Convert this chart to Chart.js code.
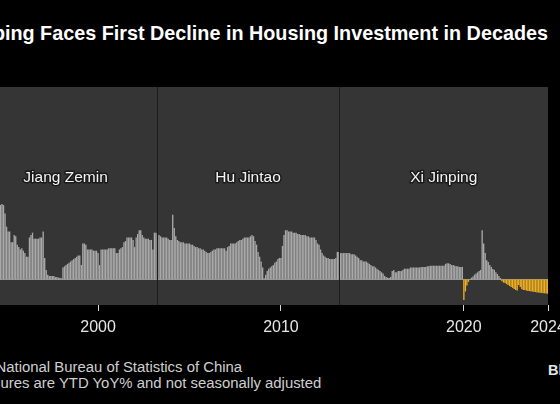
<!DOCTYPE html>
<html><head><meta charset="utf-8">
<script src="https://cdn.jsdelivr.net/npm/chart.js@4.4.1/dist/chart.umd.min.js"></script>
<style>
html,body{margin:0;padding:0;background:#000;width:560px;height:404px;overflow:hidden;font-family:"Liberation Sans",Arial,sans-serif}
#ttl{position:absolute;right:12px;top:22px;color:#fff;font-weight:bold;font-size:19.8px;line-height:22px;white-space:nowrap}
#wrap{position:absolute;left:0;top:87px;width:560px;height:258px}
#foot{position:absolute;left:-60px;top:359px;color:#cfcfcf;font-size:14.9px;line-height:16px;white-space:nowrap}
#brand{position:absolute;left:548px;top:361px;color:#e6e6e6;font-weight:bold;font-size:14.5px;line-height:18px;white-space:nowrap}
</style></head>
<body>
<div id="ttl">Xi Jinping Faces First Decline in Housing Investment in Decades</div>
<div id="wrap"><canvas id="cHouse" width="560" height="258"></canvas></div>
<div id="foot">Source: National Bureau of Statistics of China<br>Note: Figures are YTD YoY% and not seasonally adjusted</div>
<div id="brand">Bloomberg</div>
<script>
// ══════════════════════════════════════════
//  DATA  – residential investment, YTD YoY %, monthly
// ══════════════════════════════════════════
var seriesStart=[1994,8];   // first value = Aug 1994
var yoy1990s=[
  61,62,63,62,55,
  44,40,40,31,31,37,36,29,27,25,26,24,
  22,19,19,35,37,39,34,34,34,34,35,35,
  40,18,8,4,3,3,3,3,2,2,1.5,1.5,
  1,10,11,12,13,14,15,16,17,18,19,20,
  20,12,30,30,29,25,25,25,25,24,24,24
];
var yoy2000s=[
  22,12,25,25,25,25,25,26,26,26,26,26,
  22,22,25,26,27,31,32,35,35,35,35,33,
  27,35,38,41,41,37,35,34,34,34,33,33,
  25,39,39,37,37,36,35,35,35,35,34,33,
  33,54,43,36,33,32,31,31,31,30,30,30,
  30,29,29,28,27,27,26,26,25,25,24,23,
  22,22,23,24,25,25,26,26,26,26,26,26,
  24,27,28,30,30,30,30,31,32,33,33,34,
  35,35,35,35,36,37,36,32,29,23,19,15,
  10,1,4,7,9,10,11,12,14,15,17,18
];
var yoy2010s=[
  18,28,37,41,41,40,40,40,39,39,39,38,
  38,37,37,37,37,36,36,35,35,35,35,33,
  30,29,25,22,20,19,18,18,17,17,17,17,
  18,23,23,22,22,22,22,22,22,22,21,21,
  21,20,19,18,16,16,15,15,15,14,13,12,
  11,11,10,9,8,7,6,5,3,2,1.5,1.2,
  2,7,8,6,6,7,7,7,8,9,9,9,
  9,10,10,10,10,10,10,10,10.5,10.5,10.5,10.5,
  11,11,11.5,11.5,11.5,11.5,11.5,11.5,11.5,11.5,11.5,11.5,
  13,13.5,13.5,13,12,12,11.5,11,11,10.5,10.5,10.5
];
var yoy2020s=[
  -17,-10,-5,-2,-0.4,1.5,2.5,4,5,6,7,8,
  41,30,22,16,14.5,12,10.4,8.7,8,6,4.6,3,
  1.2,-1.5,-2.5,-3,-3.8,-4.6,-5.4,-6.2,-7,-8,-8.7,-9.2,
  -4.6,-6.2,-8,-8.7,-8.7,-9.2,-9.6,-9.6,-10,-10,-10.4,-10.4,
  -10.8,-10.8,-11.2,-11.2,-11.5,-11.5,-11.7,-11.8
];
var leaders=['Jiang Zemin','Hu Jintao','Xi Jinping'];
var termStart=[1993.25,2003.2,2013.2];   // decimal years
var tickYears=[2000,2010,2020,2024];

var X_MIN=1994.64,X_MAX=2024.6,Y_MIN=-21.25,Y_MAX=160.4;
var GRAY='#a9a9a9',GOLD='#eeb020';

var allVals=yoy1990s.concat(yoy2000s,yoy2010s,yoy2020s);
var pts=allVals.map(function(v,i){var m=seriesStart[1]-1+i;return{x:seriesStart[0]+m/12,y:v};});

/* ── plot background + zero line ── */
var backdrop={id:'backdrop',
  beforeDraw:function(c){var a=c.chartArea,x=c.ctx;x.save();x.fillStyle='#353535';x.fillRect(a.left,a.top,a.right-a.left,a.bottom-a.top);x.restore();},
  beforeDatasetsDraw:function(c){var a=c.chartArea,x=c.ctx,y0=Math.round(c.scales.y.getPixelForValue(0))+0.5;
    x.save();x.strokeStyle='#8c8c8c';x.lineWidth=1;x.beginPath();x.moveTo(a.left,y0);x.lineTo(a.right,y0);x.stroke();x.restore();}
};
/* ── leader terms: dividers + names ── */
var terms={id:'terms',afterDatasetsDraw:function(c){
  var a=c.chartArea,x=c.ctx,sx=c.scales.x;
  x.save();x.strokeStyle='#1c1c1c';x.lineWidth=1;
  termStart.forEach(function(t){if(t<=X_MIN)return;var px=Math.round(sx.getPixelForValue(t))+0.5;x.beginPath();x.moveTo(px,a.top);x.lineTo(px,a.bottom);x.stroke();});
  x.font='15.5px "Liberation Sans", Arial, sans-serif';x.textAlign='center';x.textBaseline='middle';x.lineJoin='round';
  leaders.forEach(function(n,i){
    var mid=(termStart[i]+(i<termStart.length-1?termStart[i+1]:X_MAX))/2,px=sx.getPixelForValue(mid),py=a.top+91;
    x.lineWidth=3;x.strokeStyle='#1a1a1a';x.strokeText(n,px,py);x.fillStyle='#f4f4f4';x.fillText(n,px,py);
  });
  x.restore();
}};

Chart.defaults.font.family='"Liberation Sans", Arial, sans-serif';
new Chart(document.getElementById('cHouse'),{
  type:'bar',
  data:{datasets:[{data:pts,backgroundColor:function(ctx){var r=ctx.raw;return r&&r.y<0?GOLD:GRAY;},borderWidth:0,barPercentage:0.88,categoryPercentage:1}]},
  options:{responsive:false,animation:false,devicePixelRatio:1,
    layout:{padding:{left:0,right:12,top:0,bottom:0}},
    plugins:{legend:{display:false},tooltip:{enabled:false}},
    scales:{
      x:{type:'linear',min:X_MIN,max:X_MAX,offset:false,
        afterBuildTicks:function(s){s.ticks=tickYears.map(function(y,i){return{value:i===tickYears.length-1?X_MAX:y};});},
        afterFit:function(s){s.paddingLeft=0;s.paddingRight=0;s.height=40;},
        ticks:{color:'#e6e6e6',font:{size:16},padding:7,autoSkip:false,maxRotation:0,callback:function(v,i){return String(tickYears[i]);}},
        grid:{offset:false,drawOnChartArea:false,drawTicks:true,tickLength:6,color:'#d8d8d8',tickColor:'#d8d8d8'},
        border:{display:false}},
      y:{display:false,min:Y_MIN,max:Y_MAX}
    }
  },
  plugins:[backdrop,terms]
});
</script>
</body></html>
